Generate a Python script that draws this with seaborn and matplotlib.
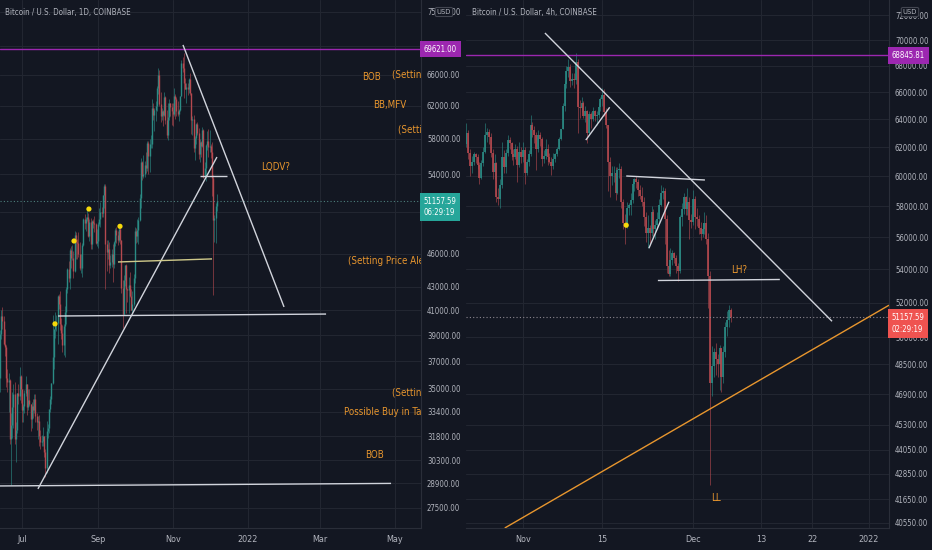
"""
Bitcoin / USD  -  daily and 4h TradingView style snapshot, two panels
"""

import numpy as np
import pandas as pd
import matplotlib
matplotlib.use('Agg')
import matplotlib.pyplot as plt
import matplotlib.dates as mdates
import matplotlib.transforms as mtrans
from matplotlib import font_manager as fm
from matplotlib.ticker import NullLocator
import seaborn as sns

# ---------------- colours ----------------
BG = '#131722'
GRID = '#222631'
TXT = '#b2b5be'
UP = '#2b8c85'
DOWN = '#b5494f'
UP_BOX = '#26a69a'
DOWN_BOX = '#ef5350'
ORANGE = '#e8962e'
PURPLE = '#9c27b0'
WHITE = '#d1d4dc'
YELLOW = '#f5d90a'

# ---------------- daily candles (thousand USD), from 2021-06-13 ----------------
d_start = '2021-06-13'
d_first_open = 35.8
d_close = [39.1, 40.5, 40.1, 38.3, 38.1, 35.8, 35.5, 35.6, 31.6, 32.5, 33.7, 34.6, 31.6, 32.2, 34.7, 34.5, 35.9, 35.0,
           33.5, 33.8, 34.7, 35.3, 33.7, 34.2, 33.9, 32.9, 33.8, 33.5, 34.3, 33.1, 32.7, 32.8, 31.8, 31.4, 31.5, 31.8,
           30.8, 29.8, 32.1, 32.3, 33.6, 34.3, 35.4, 37.3, 39.5, 40.0, 40.0, 42.2, 41.5,
           39.9, 39.2, 38.2, 39.7, 40.9, 42.8, 44.6, 43.8, 46.3, 45.6, 45.6, 44.4, 47.8, 47.1, 47.0, 46.0, 44.7, 44.7,
           46.8, 49.3, 48.9, 49.3, 49.5, 47.7, 49.0, 46.9, 49.1, 48.9, 48.8, 47.0, 47.2,
           48.8, 49.3, 50.0, 49.9, 51.8, 52.7, 46.9, 46.1, 46.4, 44.9, 45.2, 46.0, 45.0, 47.1, 48.2, 47.8, 47.3, 48.3,
           47.3, 42.9, 40.7, 43.6, 44.9, 42.8, 42.7, 43.2, 42.2, 41.0, 41.5, 43.8,
           48.1, 47.7, 48.2, 49.2, 51.5, 55.4, 53.8, 54.0, 55.0, 54.7, 57.5, 56.0, 57.4, 57.4, 61.7, 60.9, 61.5, 62.0,
           64.3, 66.0, 62.2, 60.7, 61.3, 60.9, 63.1, 60.3, 58.5, 60.6, 62.3, 61.9, 61.3,
           61.0, 63.2, 62.9, 61.4, 61.0, 61.5, 63.3, 67.6, 67.0, 64.9, 64.2, 64.4, 64.2, 65.5, 63.6, 60.2, 60.4, 56.9,
           58.1, 59.8, 58.7, 56.3, 57.6, 57.2, 59.0, 53.7, 54.7, 57.3, 57.8, 57.0,
           57.2, 56.5, 53.6, 49.2, 49.4, 50.6, 51.16]
d_high = [39.4, 41.0, 41.3, 40.5, 39.5, 38.2, 36.4, 36.1, 35.7, 33.3, 34.8, 35.3, 35.5, 32.7, 34.7, 35.3, 36.6, 36.0,
          35.0, 33.9, 34.9, 35.9, 35.3, 35.0, 35.0, 33.9, 34.1, 34.3, 34.6, 34.6, 33.3, 33.1, 33.2, 32.2, 31.9, 32.4,
          31.8, 31.0, 32.8, 32.6, 33.6, 34.5, 35.4, 40.6, 39.5, 40.9, 40.6, 42.3, 42.4,
          42.6, 40.4, 39.8, 39.9, 41.4, 43.0, 44.7, 45.3, 46.5, 46.7, 46.8, 46.2, 48.1, 48.0, 47.4, 48.0, 47.1, 46.0,
          47.0, 49.4, 49.8, 49.5, 50.5, 49.9, 49.3, 49.4, 49.2, 49.3, 49.6, 48.9, 48.3,
          49.0, 50.4, 51.0, 50.5, 51.8, 52.9, 52.9, 47.3, 47.3, 47.1, 45.9, 46.4, 46.9, 47.2, 48.4, 48.5, 48.1, 48.8,
          48.4, 47.3, 43.6, 44.0, 44.9, 45.0, 42.9, 43.9, 44.3, 42.8, 42.6, 44.1,
          48.5, 48.4, 49.3, 49.5, 51.9, 55.8, 55.5, 56.1, 55.5, 56.5, 57.8, 57.7, 58.0, 58.5, 62.9, 62.4, 61.7, 62.6,
          64.5, 67.0, 66.6, 63.7, 61.7, 61.5, 63.7, 63.3, 61.5, 62.4, 62.9, 62.4, 62.4,
          62.4, 64.3, 63.5, 63.1, 62.6, 61.6, 63.3, 68.0, 68.5, 69.0, 65.6, 65.0, 64.9, 65.6, 66.3, 63.6, 60.7, 60.9,
          58.3, 59.9, 60.0, 59.3, 58.0, 57.8, 59.4, 59.2, 55.3, 57.4, 58.9, 59.2,
          59.1, 57.4, 57.6, 53.9, 49.7, 50.9, 51.9]
d_low = [34.8, 38.7, 39.5, 38.2, 37.4, 35.1, 34.8, 33.4, 31.3, 28.8, 31.7, 32.3, 31.3, 30.2, 32.0, 33.9, 34.2, 34.0,
         32.7, 32.7, 33.3, 34.5, 33.2, 33.5, 33.8, 32.1, 32.3, 33.0, 33.3, 32.7, 32.2, 31.6, 31.2, 31.0, 31.2, 31.2,
         30.5, 29.3, 29.5, 31.7, 32.0, 33.4, 33.9, 35.3, 36.4, 38.8, 39.3, 38.3, 41.1,
         39.4, 38.7, 37.7, 37.5, 37.3, 39.9, 42.5, 43.4, 42.8, 44.7, 45.4, 43.8, 44.3, 45.5, 45.5, 45.7, 44.5, 44.2,
         43.9, 46.7, 48.3, 48.1, 49.1, 47.6, 47.2, 46.4, 46.4, 48.4, 48.0, 46.9, 46.7,
         46.5, 48.6, 48.5, 49.5, 49.5, 50.4, 42.8, 44.4, 45.5, 44.2, 44.7, 44.8, 43.4, 44.7, 46.7, 47.0, 46.8, 47.1,
         46.9, 42.5, 39.6, 40.6, 43.1, 40.8, 41.7, 40.8, 42.1, 41.0, 40.8, 41.4,
         43.3, 47.0, 47.1, 46.9, 49.1, 50.4, 53.4, 53.6, 53.7, 54.1, 54.4, 54.0, 54.2, 56.9, 56.9, 60.2, 58.9, 60.1,
         61.3, 63.5, 62.0, 60.0, 60.2, 59.5, 60.7, 59.8, 58.1, 57.9, 60.2, 60.8, 59.6,
         59.5, 60.7, 60.4, 60.7, 60.8, 60.1, 61.4, 63.3, 66.4, 63.0, 64.1, 62.3, 63.4, 63.6, 63.4, 58.6, 58.4, 56.5,
         55.6, 57.4, 58.5, 55.7, 55.3, 55.9, 57.0, 53.6, 53.6, 53.3, 56.7, 55.9,
         56.5, 55.8, 51.7, 42.3, 47.1, 47.0, 50.1]

# ---------------- 8h candles (thousand USD), from 2021-10-22 ----------------
h_start = '2021-10-22'
h_first_open = 62.2
h_close = [63.0, 61.6, 60.7, 61.0, 61.5, 61.3, 60.8, 59.9, 60.9, 61.7, 62.9, 63.1, 62.7, 61.6, 60.3,
           60.9, 58.6, 58.5, 59.4, 61.3, 60.6, 61.6, 62.5, 62.3, 61.5, 61.3, 61.9, 60.8, 61.7, 61.3,
           61.8, 60.2, 61.0, 61.5, 63.6, 63.2, 62.9, 61.9, 62.9, 62.6, 61.2, 61.4, 61.9, 61.3, 61.0,
           60.7, 61.2, 61.5, 61.9, 62.6, 63.3, 65.0, 66.6, 67.6, 67.9, 66.8, 67.0, 66.9, 68.3, 64.9,
           64.8, 65.2, 64.2, 64.6, 63.0, 64.4, 64.0, 64.6, 64.2, 64.3, 64.9, 65.5, 65.8, 64.5, 63.6,
           61.0, 60.0, 60.2, 60.2, 58.9, 60.4, 60.5, 58.3, 56.9, 56.8, 57.9, 58.1, 58.4, 59.5, 59.8,
           59.6, 59.1, 58.7, 58.3, 57.3, 56.3, 56.6, 56.3, 57.6, 56.5, 56.8, 57.2, 58.1, 58.9, 59.0,
           57.2, 54.2, 53.7, 54.6, 55.0, 54.7, 54.2, 53.9, 57.3, 57.8, 58.6, 57.8, 58.3, 57.1, 57.0,
           58.5, 57.3, 57.2, 56.6, 56.2, 56.5, 56.9, 55.9, 53.6, 47.5, 48.4, 49.2, 48.8, 48.5, 49.4,
           47.8, 49.2, 50.6, 51.0, 51.6, 51.16]
h_high = [63.7, 63.2, 61.9, 61.4, 61.7, 61.6, 61.5, 61.0, 61.1, 62.0, 63.7, 63.4, 63.3, 63.0, 61.9,
          61.5, 61.0, 59.2, 59.8, 62.4, 61.8, 61.9, 62.9, 62.7, 62.4, 61.9, 62.2, 62.1, 62.4, 62.0,
          62.4, 62.0, 61.2, 61.8, 64.3, 63.8, 63.5, 63.1, 63.2, 63.1, 62.7, 61.8, 62.6, 62.2, 61.6,
          61.3, 61.6, 61.6, 62.0, 62.7, 63.3, 65.2, 66.8, 68.0, 68.5, 68.1, 67.4, 67.4, 69.0, 68.5,
          65.4, 65.6, 65.3, 65.0, 64.7, 64.6, 64.5, 64.9, 64.7, 64.6, 65.2, 65.6, 66.3, 66.2, 64.8,
          63.6, 61.3, 60.7, 60.7, 60.6, 60.6, 60.9, 60.7, 58.5, 57.5, 58.3, 58.2, 58.9, 59.7, 59.9,
          60.0, 59.8, 59.4, 59.3, 58.6, 57.6, 57.4, 56.8, 58.0, 57.8, 57.1, 57.6, 58.5, 59.4, 59.3,
          59.2, 57.4, 55.2, 55.3, 55.2, 55.1, 54.9, 54.4, 57.4, 58.2, 58.9, 58.7, 59.2, 58.6, 57.5,
          59.1, 58.7, 57.9, 57.4, 57.0, 56.9, 57.6, 57.4, 56.3, 53.9, 49.5, 49.4, 49.7, 49.1, 49.6,
          49.4, 49.5, 50.9, 51.5, 51.9, 51.7]
h_low = [62.0, 61.2, 60.0, 60.2, 60.8, 60.9, 60.5, 59.5, 59.8, 60.7, 61.6, 62.4, 62.2, 61.3, 59.8,
         59.8, 58.3, 58.1, 57.9, 59.2, 60.2, 60.2, 61.4, 61.9, 61.1, 60.8, 61.2, 59.6, 60.6, 60.9,
         61.0, 59.5, 60.1, 60.7, 61.4, 62.7, 62.3, 60.4, 61.7, 62.1, 60.7, 60.9, 61.2, 60.8, 60.9,
         60.1, 60.5, 61.0, 61.4, 61.8, 62.5, 63.3, 64.6, 66.3, 67.1, 66.4, 66.5, 66.3, 66.6, 63.0,
         64.1, 64.5, 64.1, 63.8, 62.3, 62.9, 63.4, 63.9, 63.9, 63.6, 64.1, 64.6, 65.0, 64.2, 63.4,
         59.0, 58.6, 59.4, 59.6, 58.4, 58.8, 59.9, 57.9, 56.5, 55.6, 56.6, 57.4, 57.4, 58.2, 59.0,
         59.2, 58.7, 58.5, 58.0, 56.7, 55.7, 55.3, 55.5, 56.1, 56.0, 55.9, 56.5, 57.0, 58.0, 58.5,
         55.6, 53.8, 53.6, 53.6, 54.3, 54.4, 53.8, 53.3, 53.8, 56.7, 57.5, 57.4, 57.4, 55.9, 56.6,
         56.8, 56.5, 56.7, 56.2, 55.8, 56.0, 56.2, 55.6, 51.7, 42.3, 46.8, 47.8, 47.9, 47.8, 47.1,
         47.0, 47.5, 48.9, 50.1, 50.6, 50.9]

# ---------------- axis ticks ----------------
# gridlines at every tick; '' where the price boxes cover the label on the screenshot
d_price_ticks = [75000, 70000, 66000, 62000, 58000, 54000, 50000, 46000, 43000, 41000, 39000,
                 37000, 35000, 33400, 31800, 30300, 28900, 27500]
d_hidden_ticks = [70000, 50000]
h_price_ticks = [72000, 70000, 68000, 66000, 64000, 62000, 60000, 58000, 56000, 54000, 52000,
                 50000, 48500, 46900, 45300, 44050, 42850, 41650, 40550]
h_hidden_ticks = []
d_date_ticks = ['2021-07-01', '2021-09-01', '2021-11-01', '2022-01-01', '2022-03-01', '2022-05-01']
d_date_labels = ['Jul', 'Sep', 'Nov', '2022', 'Mar', 'May']
h_date_ticks = ['2021-11-01', '2021-11-15', '2021-12-01', '2021-12-13', '2021-12-22', '2022-01-01']
h_date_labels = ['Nov', '15', 'Dec', '13', '22', '2022']

last_price = 51157.59
d_ath = 69621.00
h_ath = 68845.81

# ---------------- drawings ----------------
d_lines = [  # (start, start price, end, end price, colour)
    ('2021-11-09 07:00', 70130, '2022-01-30 17:00', 41290, WHITE),
    ('2021-07-14 00:00', 28580, '2021-12-07 00:00', 55910, WHITE),
    ('2021-11-23 00:00', 53810, '2021-12-15 00:00', 53810, WHITE),
    ('2021-09-17 07:00', 45220, '2021-12-03 00:00', 45500, '#cfc98a'),
    ('2021-07-30 10:00', 40540, '2022-03-06 00:00', 40700, WHITE),
    ('2021-06-10 00:00', 28750, '2022-04-28 00:00', 28900, WHITE),
]
h_lines = [
    ('2021-11-04 21:00', 70557, '2021-12-25 12:00', 50925, WHITE),
    ('2021-11-12 02:00', 62510, '2021-11-16 07:00', 64870, WHITE),
    ('2021-11-19 05:00', 60020, '2021-12-03 02:00', 59750, WHITE),
    ('2021-11-23 05:00', 55310, '2021-11-26 18:00', 58300, WHITE),
    ('2021-11-24 19:00', 53330, '2021-12-16 07:00', 53390, WHITE),
    ('2021-10-28 19:00', 40308, '2022-01-04 13:00', 51860, ORANGE),
]
d_dots_time = ['2021-07-27 22:00', '2021-08-12 10:00', '2021-08-24 14:00', '2021-09-18 22:00']
d_dots_price = [39900, 47180, 50330, 48600]
h_dots_time = ['2021-11-19 05:00']
h_dots_price = [56770]

d_notes = [
    ('BOB', '2022-04-04 06:00', 65730),
    ('(Setting Price Alert)', '2022-04-28 18:00', 66000),
    ('BB,MFV', '2022-04-13 06:00', 62120),
    ('(Setting Price Alert)', '2022-05-03 16:00', 59050),
    ('LQDV?', '2022-01-11 22:00', 54800),
    ('(Setting Price Alert)', '2022-03-23 22:00', 45330),
    ('(Setting Price Alert)', '2022-04-28 18:00', 34720),
    ('Possible Buy in Target', '2022-03-20 14:00', 33400),
    ('BOB', '2022-04-06 18:00', 30600),
]
h_notes = [
    ('LH?', '2021-12-07 17:00', 53970),
    ('LL', '2021-12-04 05:00', 41680),
]


def pick_narrow_font():
    """Find a condensed / narrow face; TradingView labels are quite narrow"""
    wanted = ['liberationsansnarrow-regular', 'notosans-condensed.', 'dejavusanscondensed.',
              'opensans-condensed', 'notosans-semicondensed.']
    files = [f.fname for f in fm.fontManager.ttflist]
    for key in wanted:
        for fn in files:
            if key in fn.lower().replace('_', '-').split('/')[-1]:
                return fn
    return fm.findfont('Roboto')


NARROW = pick_narrow_font()


def fprop(size):
    return fm.FontProperties(fname=NARROW, size=size)


def tnum(s):
    return mdates.date2num(pd.Timestamp(s))


def draw_candles(ax, start, freq, first_open, close, high, low, body_w, wick_w):
    c = np.array(close) * 1000
    h = np.array(high) * 1000
    l = np.array(low) * 1000
    o = np.concatenate([[first_open * 1000], c[:-1]])
    x = mdates.date2num(pd.date_range(start, periods=len(c), freq=freq))
    cols = np.where(c >= o, UP, DOWN)
    ax.vlines(x, l, h, colors=cols, lw=wick_w, alpha=0.7, zorder=2)
    ax.vlines(x, np.minimum(o, c), np.maximum(o, c), colors=cols, lw=body_w, zorder=2)


def style_panel(ax, ylim, xlim, price_ticks, hidden, date_ticks, date_labels):
    ax.set_facecolor(BG)
    ax.set_yscale('log')
    ax.set_ylim(*ylim)
    ax.set_xlim(tnum(xlim[0]), tnum(xlim[1]))
    ax.yaxis.tick_right()
    ax.set_yticks(price_ticks)
    ax.set_yticklabels(['' if p in hidden else f'{p:.2f}' for p in price_ticks])
    ax.yaxis.set_minor_locator(NullLocator())
    ax.set_xticks([tnum(d) for d in date_ticks])
    ax.set_xticklabels(date_labels)
    ax.xaxis.set_minor_locator(NullLocator())
    ax.tick_params(axis='y', length=0, pad=4.3, labelcolor=TXT)
    ax.tick_params(axis='x', length=0, pad=4.8, labelcolor=TXT)
    for lab in ax.get_yticklabels():
        lab.set_fontproperties(fprop(5.6))
    for lab in ax.get_xticklabels():
        lab.set_fontproperties(fprop(6.5))
    ax.grid(True, color=GRID, lw=0.8, zorder=0)
    for side in ['left', 'top']:
        ax.spines[side].set_visible(False)
    for side in ['right', 'bottom']:
        ax.spines[side].set_color('#2a2e39')
        ax.spines[side].set_linewidth(0.8)
    ax.set_xlabel('')
    ax.set_ylabel('')


def draw_lines(ax, lines):
    for t0, p0, t1, p1, col in lines:
        ax.plot([tnum(t0), tnum(t1)], [p0, p1], color=col, lw=1.0, zorder=3,
                solid_capstyle='butt')


def price_box(ax, price, text, color):
    # first line of the label sits on the price, a second line hangs below it
    tr = mtrans.blended_transform_factory(ax.transAxes, ax.transData)
    tr = mtrans.offset_copy(tr, fig=ax.figure, y=2.9, units='points')
    ax.text(1.006, price, text, transform=tr, ha='left', va='top', fontproperties=fprop(5.6),
            color='white', linespacing=1.35, clip_on=False, zorder=6,
            bbox=dict(boxstyle='square,pad=0.5', fc=color, ec='none'))


def notes(ax, items):
    for txt, t, p in items:
        ax.text(tnum(t), p, txt, color=ORANGE, fontproperties=fprop(7.0), ha='left',
                va='center', clip_on=True, zorder=5)


sns.set_theme(style='dark', rc={'axes.facecolor': BG, 'figure.facecolor': BG,
                                'savefig.facecolor': BG, 'text.color': TXT})
plt.rcParams['font.family'] = ['Roboto', 'DejaVu Sans']

fig = plt.figure(figsize=(9.32, 5.5), dpi=100)
ax_d = fig.add_axes([0, 22 / 550, 421 / 932, 528 / 550])
ax_h = fig.add_axes([466 / 932, 22 / 550, 423 / 932, 528 / 550])

# ---------------- left: 1D ----------------
style_panel(ax_d, (26408, 76800), ('2021-06-13 01:30', '2022-05-22 10:00'),
            d_price_ticks, d_hidden_ticks, d_date_ticks, d_date_labels)
draw_candles(ax_d, d_start, 'D', d_first_open, d_close, d_high, d_low, 1.0, 0.6)
ax_d.axhline(d_ath, color=PURPLE, lw=1.0, zorder=3)
ax_d.axhline(last_price, color='#4d7f7c', lw=0.8, ls=(0, (1, 2)), zorder=3)
draw_lines(ax_d, d_lines)
sns.scatterplot(x=[tnum(t) for t in d_dots_time], y=d_dots_price, ax=ax_d, color=YELLOW,
                s=14, edgecolor='none', zorder=4, legend=False)
notes(ax_d, d_notes)
price_box(ax_d, d_ath, f'{d_ath:.2f}', PURPLE)
price_box(ax_d, last_price, f'{last_price:.2f}\n06:29:19', UP_BOX)

# ---------------- right: 4h ----------------
style_panel(ax_h, (40308, 73240), ('2021-10-21 23:00', '2022-01-04 13:00'),
            h_price_ticks, h_hidden_ticks, h_date_ticks, h_date_labels)
draw_candles(ax_h, h_start, '8h', h_first_open, h_close, h_high, h_low, 1.2, 0.6)
ax_h.axhline(h_ath, color=PURPLE, lw=1.0, zorder=3)
ax_h.axhline(last_price, color='#8d8790', lw=0.8, ls=(0, (1, 2)), zorder=3)
draw_lines(ax_h, h_lines)
sns.scatterplot(x=[tnum(t) for t in h_dots_time], y=h_dots_price, ax=ax_h, color=YELLOW,
                s=14, edgecolor='none', zorder=4, legend=False)
notes(ax_h, h_notes)
price_box(ax_h, h_ath, f'{h_ath:.2f}', PURPLE)
price_box(ax_h, last_price, f'{last_price:.2f}\n02:29:19', DOWN_BOX)

# ---------------- titles and the USD buttons ----------------
fig.text(5 / 932, 1 - 12 / 550, 'Bitcoin / U.S. Dollar, 1D, COINBASE', color=TXT,
         fontproperties=fprop(5.8), ha='left', va='center')
fig.text(472 / 932, 1 - 12 / 550, 'Bitcoin / U.S. Dollar, 4h, COINBASE', color=TXT,
         fontproperties=fprop(5.8), ha='left', va='center')
for xc in [444, 910]:
    fig.text(xc / 932, 1 - 12 / 550, 'USD', color=TXT, fontproperties=fprop(5.4),
             ha='center', va='center', zorder=10,
             bbox=dict(boxstyle='round,pad=0.2', fc=BG, ec='#434651', lw=0.8))

fig.savefig('out.png', dpi=100, facecolor=BG)
plt.close(fig)
